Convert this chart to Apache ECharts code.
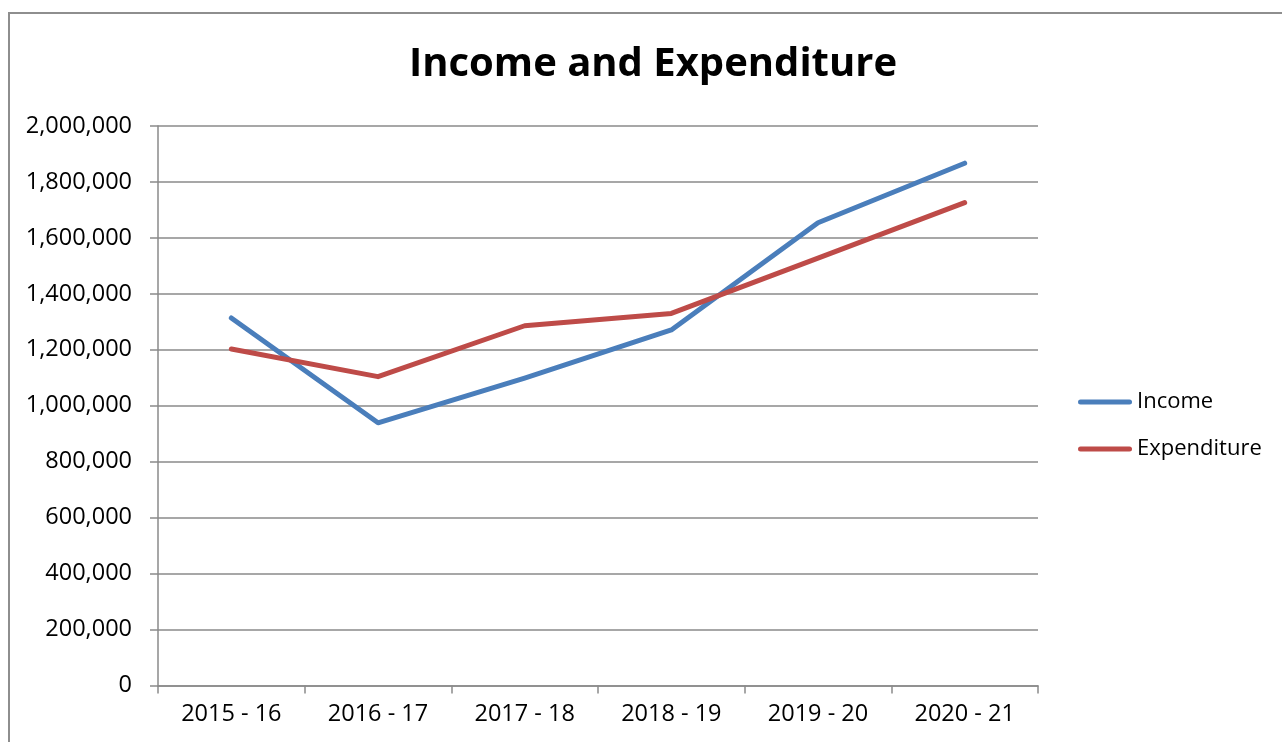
<!DOCTYPE html>
<html>
<head>
<meta charset="utf-8">
<title>Income and Expenditure</title>
<script src="https://cdn.jsdelivr.net/npm/echarts@6/dist/echarts.min.js"></script>
<style>
  html, body { margin: 0; padding: 0; background: #fff; overflow: hidden; }
  #frame {
    position: absolute; left: 8px; top: 12px;
    width: 1300px; height: 760px;
    border: 2px solid #8e8e8e; box-sizing: border-box;
  }
  #chart { position: absolute; left: 0; top: 0; width: 1282px; height: 742px; }
</style>
</head>
<body>
<div id="frame"></div>
<div id="chart"></div>
<script>
const years = ["2015 - 16", "2016 - 17", "2017 - 18", "2018 - 19", "2019 - 20", "2020 - 21"];
const income = [1314000, 939000, 1099000, 1271000, 1654000, 1867000];
const expenditure = [1203000, 1104000, 1286000, 1330000, 1528000, 1726000];

const font = "'Open Sans', 'DejaVu Sans', sans-serif";
const gray = "#8a8a8a";
// capsule shaped legend marker, like the rounded line ends
const capsule = "path://M2.5,0 L51.5,0 A2.5,2.5 0 0 1 51.5,5 L2.5,5 A2.5,2.5 0 0 1 2.5,0 Z";

const chart = echarts.init(document.getElementById("chart"), null, { renderer: "canvas" });

const legendBase = {
  orient: "vertical",
  left: 1078,
  padding: 0,
  icon: capsule,
  itemWidth: 54,
  itemHeight: 5,
  textStyle: { fontFamily: font, fontSize: 22, color: "#000" },
  selectedMode: false
};

chart.setOption({
  animation: false,
  title: {
    text: "Income and Expenditure",
    left: 404,
    top: 40,
    textStyle: { fontFamily: font, fontSize: 40, fontWeight: "bold", color: "#000" }
  },
  legend: [
    Object.assign({}, legendBase, { data: ["Income"], top: 391 }),
    Object.assign({}, legendBase, { data: ["Expenditure"], top: 438 })
  ],
  grid: { left: 158, right: 244, top: 126, bottom: 56.5, containLabel: false },
  xAxis: {
    type: "category",
    data: years,
    boundaryGap: true,
    axisLine: { lineStyle: { color: gray, width: 1.5 } },
    axisTick: { show: true, length: 8, lineStyle: { color: gray, width: 1.5 } },
    axisLabel: { fontFamily: font, fontSize: 23.5, color: "#000", margin: 17 }
  },
  yAxis: {
    type: "value",
    min: 0,
    max: 2000000,
    interval: 200000,
    axisLine: { show: true, lineStyle: { color: gray, width: 1.5 } },
    axisTick: { show: true, length: 8, lineStyle: { color: gray, width: 1.5 } },
    splitLine: { lineStyle: { color: gray, width: 1.5 } },
    axisLabel: {
      fontFamily: font, fontSize: 23.5, color: "#000", margin: 26,
      formatter: (v) => v.toLocaleString("en-US")
    }
  },
  series: [
    {
      name: "Income",
      type: "line",
      data: income,
      showSymbol: false,
      color: "#4a7ebb",
      lineStyle: { width: 5, cap: "round", join: "round" }
    },
    {
      name: "Expenditure",
      type: "line",
      data: expenditure,
      showSymbol: false,
      color: "#be4b48",
      lineStyle: { width: 5, cap: "round", join: "round" }
    }
  ]
});
</script>
</body>
</html>
